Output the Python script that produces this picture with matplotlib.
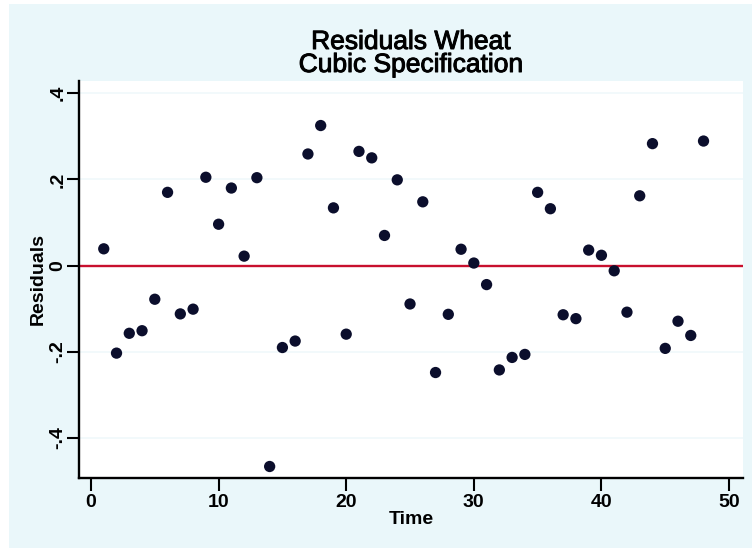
import numpy as np
import matplotlib.pyplot as plt
import matplotlib.patheffects as pe
from matplotlib.patches import Rectangle

plt.rcParams['font.family'] = ['Liberation Sans', 'DejaVu Sans']

# residuals of the cubic wheat model, one per period
time = np.arange(1, 49)
residuals = np.array([
    0.039, -0.203, -0.157, -0.151, -0.078, 0.170, -0.112, -0.101,
    0.205, 0.096, 0.180, 0.022, 0.204, -0.466, -0.190, -0.175,
    0.259, 0.325, 0.134, -0.159, 0.265, 0.250, 0.070, 0.199,
    -0.089, 0.148, -0.248, -0.113, 0.038, 0.006, -0.044, -0.242,
    -0.213, -0.206, 0.170, 0.132, -0.114, -0.123, 0.036, 0.024,
    -0.012, -0.108, 0.162, 0.283, -0.192, -0.129, -0.162, 0.289,
])

x_ticks = [0, 10, 20, 30, 40, 50]
y_ticks = [-0.4, -0.2, 0.0, 0.2, 0.4]
y_tick_labels = ['-.4', '-.2', '0', '.2', '.4']

W, H = 752, 548
fig = plt.figure(figsize=(W / 100, H / 100), dpi=100, facecolor='white')

# light bluish graph region behind the plot
fig.patches.append(Rectangle((9 / W, 0), 1 - 9 / W, 1 - 4 / H,
                             transform=fig.transFigure, facecolor='#eaf7fa',
                             edgecolor='none', zorder=-10))

ax = fig.add_axes([79 / W, 1 - 477.7 / H, (742.7 - 79) / W, (477.7 - 80.7) / H])
ax.set_facecolor('white')

ax.axhline(0, color='#c8102e', linewidth=1.7, zorder=2)
ax.scatter(time, residuals, s=66, color='#0b0e2c', edgecolors='none', zorder=3)

ax.set_xlim(-0.94, 51.07)
ax.set_ylim(-0.492, 0.429)

ax.set_xticks(x_ticks)
ax.set_yticks(y_ticks)
ax.set_yticklabels(y_tick_labels, rotation=90, va='center')
ax.tick_params(axis='both', length=9, width=1.5, labelsize=14, colors='black')
ax.tick_params(axis='x', pad=3)
ax.tick_params(axis='y', pad=0)
for lab in ax.get_xticklabels() + ax.get_yticklabels():
    lab.set_fontweight('bold')

ax.grid(True, axis='y', color='#f0f8fb', linewidth=1.2, zorder=0)
ax.set_axisbelow(True)

for side in ['top', 'right']:
    ax.spines[side].set_visible(False)
for side in ['left', 'bottom']:
    ax.spines[side].set_linewidth(1.7)
    ax.spines[side].set_color('black')

ax.set_xlabel('Time', fontsize=14, fontweight='bold', labelpad=0)
ax.set_ylabel('Residuals', fontsize=14, fontweight='bold', labelpad=2)

heavy = [pe.withStroke(linewidth=0.7, foreground='black')]
fig.text(411 / W, 1 - 49 / H, 'Residuals Wheat', fontsize=19,
         ha='center', va='baseline', path_effects=heavy)
fig.text(411 / W, 1 - 72 / H, 'Cubic Specification', fontsize=19,
         ha='center', va='baseline', path_effects=heavy)

fig.savefig('out.png', dpi=100, facecolor=fig.get_facecolor())
